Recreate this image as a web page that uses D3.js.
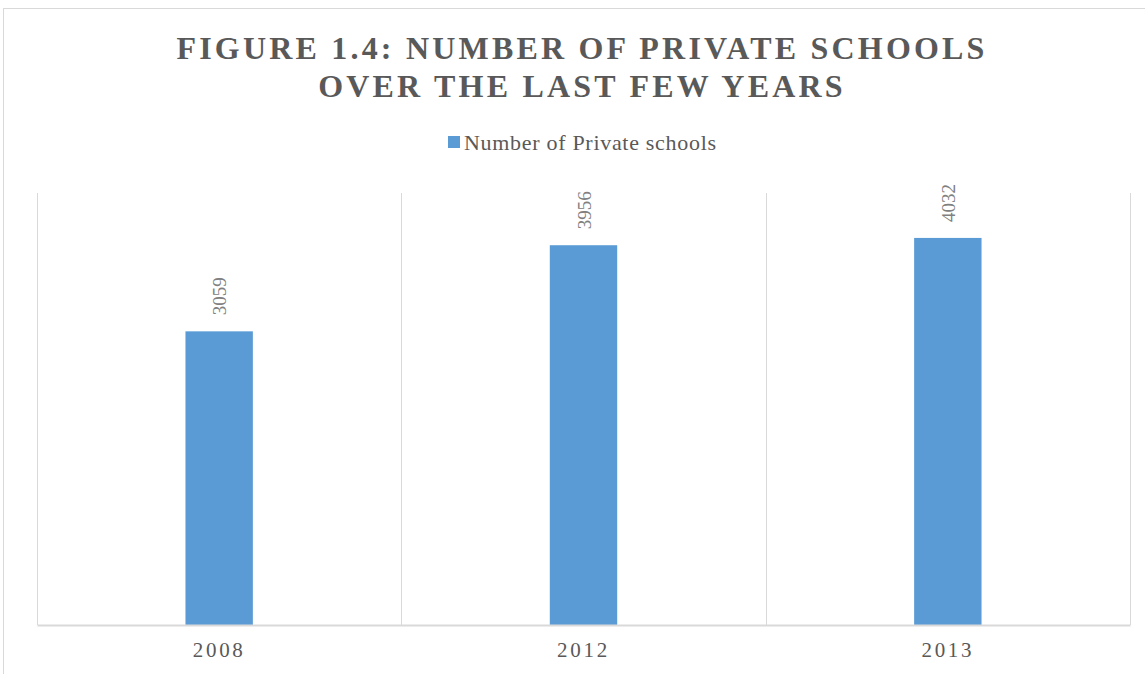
<!DOCTYPE html>
<html>
<head>
<meta charset="utf-8">
<script src="https://cdn.jsdelivr.net/npm/d3@7"></script>
<style>
  body { margin: 0; background: #fff; }
  svg { display: block; }
</style>
</head>
<body>
<svg width="1145" height="674"></svg>
<script>
var years = ["2008", "2012", "2013"],
    schools = [3059, 3956, 4032],
    seriesName = "Number of Private schools",
    titleLines = ["FIGURE 1.4: NUMBER OF PRIVATE SCHOOLS", "OVER THE LAST FEW YEARS"];

var svg = d3.select("svg"),
    serif = "'Liberation Serif', 'Times New Roman', serif",
    plotLeft = 37, plotRight = 1130, plotTop = 193, plotBottom = 625

// outer chart frame
svg.append("rect")
   .attr("x", 3.5).attr("y", 8.5)
   .attr("width", 1160).attr("height", 700)
   .attr("fill", "none")
   .attr("stroke", "#d9d9d9")

svg.selectAll(".title")
   .data(titleLines)
   .enter().append("text")
   .attr("class", "title")
   .attr("x", 582)
   .attr("y", function(d, i) { return 59 + i * 38; })
   .attr("text-anchor", "middle")
   .attr("font-family", serif)
   .attr("font-weight", "bold")
   .attr("font-size", "32px")
   .attr("letter-spacing", "3.2px")
   .attr("fill", "#595959")
   .text(function(d) { return d; })

// legend
svg.append("rect")
   .attr("x", 448).attr("y", 136)
   .attr("width", 12).attr("height", 12)
   .attr("fill", "#5b9bd5")
svg.append("text")
   .attr("x", 464).attr("y", 150)
   .attr("font-family", serif)
   .attr("font-size", "22px")
   .attr("letter-spacing", "0.7px")
   .attr("fill", "#595959")
   .text(seriesName)

var xScale = d3.scaleBand().domain(years).range([plotLeft, plotRight]),
    yScale = d3.scaleLinear().domain([0, 4500]).range([plotBottom, plotTop])

// vertical gridlines at category edges
var edges = years.map(function(d) { return xScale(d); }).concat([plotRight])
svg.selectAll(".grid")
   .data(edges)
   .enter().append("line")
   .attr("class", "grid")
   .attr("x1", function(d) { return Math.round(d) + 0.5; })
   .attr("x2", function(d) { return Math.round(d) + 0.5; })
   .attr("y1", plotTop).attr("y2", plotBottom)
   .attr("stroke", "#d9d9d9")

var barW = xScale.bandwidth() * 0.185

svg.selectAll(".bar")
   .data(years)
   .enter().append("rect")
   .attr("class", "bar")
   .attr("x", function(d) { return xScale(d) + xScale.bandwidth() / 2 - barW / 2; })
   .attr("y", function(d, i) { return yScale(schools[i]); })
   .attr("width", barW)
   .attr("height", function(d, i) { return plotBottom - yScale(schools[i]); })
   .attr("fill", "#5b9bd5")

svg.selectAll(".lbl")
   .data(years)
   .enter().append("text")
   .attr("class", "lbl")
   .attr("transform", function(d, i) {
       var x = xScale(d) + xScale.bandwidth() / 2 + 7,
           y = yScale(schools[i]) - 16;
       return "translate(" + x + "," + y + ") rotate(-90)";
   })
   .attr("font-family", serif)
   .attr("font-size", "19px")
   .attr("fill", "#808080")
   .text(function(d, i) { return schools[i]; })

// x axis
var xAxis = svg.append("g")
   .attr("transform", "translate(0," + plotBottom + ")")
   .call(d3.axisBottom(xScale).tickSize(0).tickPadding(17))
xAxis.select(".domain").attr("stroke", "#d9d9d9").attr("stroke-width", 2)
xAxis.selectAll("text")
   .attr("font-family", serif)
   .attr("font-size", "21px")
   .attr("letter-spacing", "2.7px")
   .attr("fill", "#595959")
</script>
</body>
</html>
